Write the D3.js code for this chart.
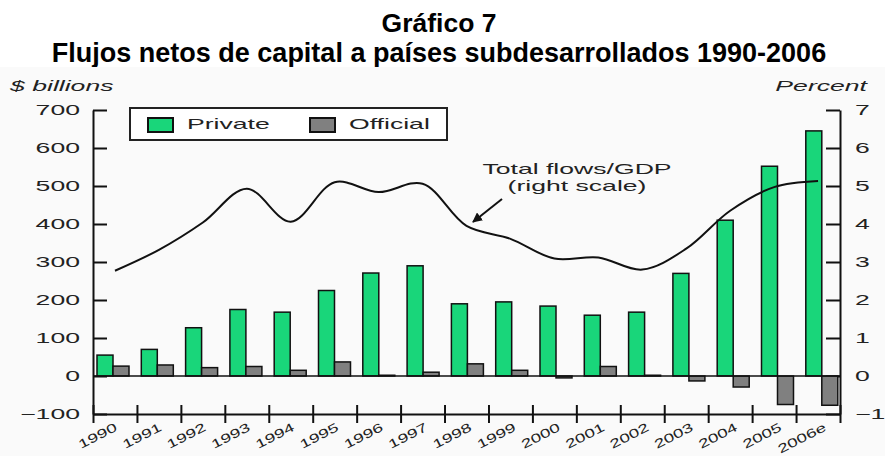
<!DOCTYPE html>
<html>
<head>
<meta charset="utf-8">
<script src="https://cdnjs.cloudflare.com/ajax/libs/d3/7.8.5/d3.min.js"></script>
<style>
  body { margin: 0; background: #fff; }
  svg { display: block; font-family: "Liberation Sans", Arial, sans-serif; }
</style>
</head>
<body>
<div id="chart"></div>
<script>
// Data
const years = ["1990", "1991", "1992", "1993", "1994", "1995", "1996", "1997", "1998",
               "1999", "2000", "2001", "2002", "2003", "2004", "2005", "2006e"];
const privateFlows = [55, 70, 127, 175, 168, 225, 271, 290, 190, 195, 184, 160, 168, 270, 410, 552, 645];
const officialFlows = [26, 29, 22, 25, 15, 37, 2, 10, 32, 15, -5, 25, 2, -13, -29, -75, -77];
const flowsGdp = [2.77, 3.32, 4.04, 4.93, 4.06, 5.1, 4.84, 5.06, 3.95, 3.61, 3.09, 3.12, 2.8, 3.35, 4.35, 4.97, 5.13];
const leftTicks = [-100, 0, 100, 200, 300, 400, 500, 600, 700];
const rightTicks = [-1, 0, 1, 2, 3, 4, 5, 6, 7];
const seriesNames = ["Private", "Official"];
const seriesColors = ["#19d67a", "#808080"];

const w = 885, h = 456;
const stretch = 1.9; // the chart lettering is widened in the original

const svg = d3.select("#chart").append("svg")
    .attr("width", w)
    .attr("height", h);

// titles
svg.append("text")
    .attr("x", 439).attr("y", 32)
    .attr("text-anchor", "middle")
    .attr("font-size", 26.5).attr("font-weight", "bold")
    .text("Gráfico 7");
svg.append("text")
    .attr("x", 439).attr("y", 62)
    .attr("text-anchor", "middle")
    .attr("font-size", 27).attr("font-weight", "bold")
    .text("Flujos netos de capital a países subdesarrollados 1990-2006");

// pale background of the pasted chart
svg.append("rect")
    .attr("x", 0).attr("y", 67)
    .attr("width", w).attr("height", h - 67)
    .attr("fill", "#fafafa");

const plotLeft = 93, plotRight = 840, plotTop = 110, plotBottom = 414;

const y = d3.scaleLinear().domain([-100, 700]).range([plotBottom, plotTop]);
const yR = d3.scaleLinear().domain([-1, 7]).range([plotBottom, plotTop]);
const xTick = d3.scaleLinear().domain([0, years.length]).range([plotLeft, plotRight]);
const xBand = d3.scaleBand().domain(years).range([plotLeft, plotRight]);
// bars sit a little off the tick grid in the original
const xBars = d3.scaleBand().domain(years).range([97, 97 + 44.3 * years.length]);
const xInner = d3.scaleBand().domain(seriesNames).range([0, 32]);
const color = d3.scaleOrdinal().domain(seriesNames).range(seriesColors);

function widen(sel) {
    sel.each(function () {
        const t = d3.select(this);
        const tx = +t.attr("x") || 0;
        t.attr("x", null).attr("transform", `translate(${tx},0) scale(${stretch},1)`);
    });
}

// left axis
const gL = svg.append("g")
    .attr("transform", `translate(${plotLeft},0)`)
    .call(d3.axisLeft(y).tickValues(leftTicks).tickSize(-14).tickSizeOuter(0).tickPadding(13)
        .tickFormat(d => d < 0 ? "\u2212" + Math.abs(d) : d));
// right axis
const gR = svg.append("g")
    .attr("transform", `translate(${plotRight},0)`)
    .call(d3.axisRight(yR).tickValues(rightTicks).tickSize(-14).tickSizeOuter(0).tickPadding(15)
        .tickFormat(d => d < 0 ? "\u2212" + Math.abs(d) : d));

[gL, gR].forEach(g => {
    g.selectAll("path, line").attr("stroke", "#111").attr("stroke-width", 2);
    g.selectAll("text").attr("font-size", 14).attr("fill", "#222").call(widen);
});

// bottom axis with ticks across the line
const gX = svg.append("g")
    .attr("transform", `translate(0,${plotBottom})`)
    .call(d3.axisBottom(xTick).tickValues(d3.range(0, years.length + 1)).tickSize(9)
        .tickSizeOuter(0).tickFormat(""));
gX.selectAll("path, line").attr("stroke", "#111").attr("stroke-width", 2);
gX.selectAll(".tick line").attr("y1", -9);

svg.append("g").selectAll("text")
    .data(years)
    .enter()
    .append("text")
    .attr("transform", d => `translate(${xBars(d) + xBars.bandwidth() / 2 - 1},${plotBottom + 16}) rotate(-27) scale(1.5,1)`)
    .attr("text-anchor", "end")
    .attr("font-size", 12.5)
    .attr("fill", "#222")
    .text(d => d);

// axis titles
svg.append("text")
    .attr("transform", `translate(10,91) scale(${stretch},1)`)
    .attr("font-size", 14).attr("font-style", "italic").attr("fill", "#222")
    .text("$ billions");
svg.append("text")
    .attr("transform", `translate(867,91) scale(${stretch},1)`)
    .attr("text-anchor", "end")
    .attr("font-size", 14).attr("font-style", "italic").attr("fill", "#222")
    .text("Percent");

// bars
const rows = years.map((yr, i) => ({ year: yr, Private: privateFlows[i], Official: officialFlows[i] }));
svg.append("g").selectAll("g")
    .data(rows)
    .enter()
    .append("g")
    .attr("transform", d => `translate(${xBars(d.year)},0)`)
    .selectAll("rect")
    .data(d => seriesNames.map(k => ({ key: k, value: d[k] })))
    .enter()
    .append("rect")
    .attr("x", d => xInner(d.key))
    .attr("width", xInner.bandwidth())
    .attr("y", d => y(Math.max(0, d.value)))
    .attr("height", d => Math.abs(y(d.value) - y(0)))
    .attr("fill", d => color(d.key))
    .attr("stroke", "#111")
    .attr("stroke-width", 1.5);

// zero line
svg.append("line")
    .attr("x1", plotLeft).attr("x2", plotRight)
    .attr("y1", y(0)).attr("y2", y(0))
    .attr("stroke", "#111").attr("stroke-width", 1.5);

// total flows / GDP line (right scale)
const line = d3.line()
    .x((d, i) => xBand(years[i]) + xBand.bandwidth() / 2)
    .y(d => yR(d))
    .curve(d3.curveCatmullRom.alpha(0.5));
svg.append("path")
    .datum(flowsGdp)
    .attr("d", line)
    .attr("fill", "none")
    .attr("stroke", "#111")
    .attr("stroke-width", 2);

// annotation
svg.append("text")
    .attr("transform", `translate(577,174) scale(${stretch},1)`)
    .attr("text-anchor", "middle").attr("font-size", 14).attr("fill", "#222")
    .text("Total flows/GDP");
svg.append("text")
    .attr("transform", `translate(577,191) scale(${stretch},1)`)
    .attr("text-anchor", "middle").attr("font-size", 14).attr("fill", "#222")
    .text("(right scale)");
svg.append("defs").append("marker")
    .attr("id", "arrow")
    .attr("viewBox", "0 0 10 10")
    .attr("refX", 9).attr("refY", 5)
    .attr("markerWidth", 5).attr("markerHeight", 5)
    .attr("orient", "auto")
    .append("path").attr("d", "M0,0 L10,5 L0,10 z").attr("fill", "#111");
svg.append("line")
    .attr("x1", 502).attr("y1", 199)
    .attr("x2", 473).attr("y2", 222)
    .attr("stroke", "#111").attr("stroke-width", 2)
    .attr("marker-end", "url(#arrow)");

// legend
const legend = svg.append("g");
legend.append("rect")
    .attr("x", 130).attr("y", 108)
    .attr("width", 317).attr("height", 32)
    .attr("fill", "#fff").attr("stroke", "#222").attr("stroke-width", 2);
const item = legend.selectAll("g")
    .data(seriesNames)
    .enter()
    .append("g")
    .attr("transform", (d, i) => `translate(${148 + i * 162},0)`);
item.append("rect")
    .attr("x", 0).attr("y", 118)
    .attr("width", 25).attr("height", 14)
    .attr("fill", d => color(d))
    .attr("stroke", "#111").attr("stroke-width", 2);
item.append("text")
    .attr("transform", `translate(39,129) scale(${stretch},1)`)
    .attr("font-size", 14).attr("fill", "#222")
    .text(d => d);
</script>
</body>
</html>
